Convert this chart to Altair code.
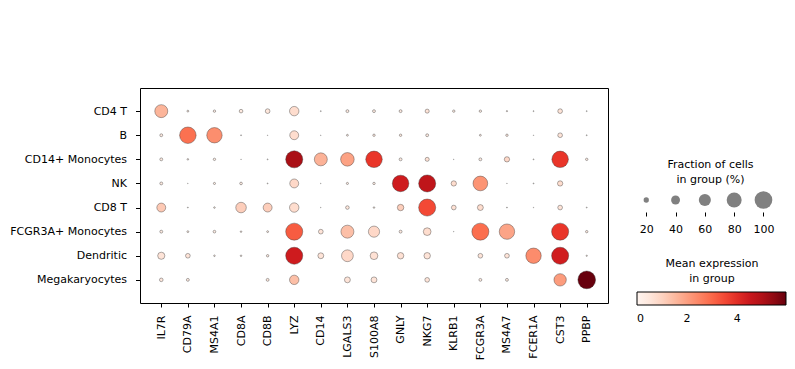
import altair as alt
import pandas as pd

genes = ["IL7R", "CD79A", "MS4A1", "CD8A", "CD8B", "LYZ", "CD14", "LGALS3",
         "S100A8", "GNLY", "NKG7", "KLRB1", "FCGR3A", "MS4A7", "FCER1A", "CST3", "PPBP"]
groups = ["CD4 T", "B", "CD14+ Monocytes", "NK", "CD8 T",
          "FCGR3A+ Monocytes", "Dendritic", "Megakaryocytes"]

# fraction of cells in group (%) per gene, one list per group
frac_cd4t = [66, 5, 7, 12, 17, 43, 2, 9, 9, 9, 14, 7, 7, 3, 2, 17, 2]
frac_b = [9, 91, 83, 2, 1, 40, 1, 5, 7, 7, 9, 0, 5, 7, 1, 17, 2]
frac_cd14mono = [9, 4, 7, 1, 2, 95, 66, 70, 91, 9, 14, 1, 9, 20, 2, 91, 7]
frac_nk = [9, 1, 6, 8, 2, 40, 1, 6, 7, 91, 95, 20, 78, 1, 2, 20, 0]
frac_cd8t = [40, 2, 4, 50, 40, 43, 1, 12, 4, 26, 95, 17, 23, 2, 1, 17, 2]
frac_fcgr3amono = [9, 5, 8, 4, 5, 95, 17, 66, 54, 9, 33, 1, 95, 83, 0, 95, 7]
frac_dendritic = [30, 17, 4, 4, 7, 95, 23, 58, 33, 26, 26, 0, 17, 17, 83, 95, 3]
frac_mega = [12, 9, 0, 0, 9, 43, 0, 23, 23, 0, 17, 0, 9, 9, 0, 62, 100]

# mean expression in group per gene, one list per group
expr_cd4t = [1.6, 0.3, 0.3, 0.4, 0.5, 0.8, 0.2, 0.4, 0.4, 0.4, 0.6, 0.3, 0.3, 0.3, 0.2, 0.6, 0.2]
expr_b = [0.4, 2.85, 2.3, 0.2, 0.2, 0.8, 0.2, 0.3, 0.4, 0.4, 0.4, 0.0, 0.3, 0.4, 0.2, 0.6, 0.2]
expr_cd14mono = [0.4, 0.3, 0.3, 0.2, 0.2, 5.1, 1.65, 1.95, 3.85, 0.4, 0.7, 0.2, 0.4, 0.9, 0.2, 3.85, 0.4]
expr_nk = [0.4, 0.2, 0.3, 0.3, 0.2, 0.9, 0.2, 0.3, 0.3, 4.4, 4.7, 0.8, 2.2, 0.2, 0.2, 0.8, 0.0]
expr_cd8t = [1.2, 0.2, 0.3, 1.1, 1.1, 0.8, 0.2, 0.5, 0.3, 1.1, 3.5, 0.7, 0.8, 0.2, 0.2, 0.6, 0.2]
expr_fcgr3amono = [0.4, 0.3, 0.3, 0.3, 0.3, 3.2, 0.6, 1.4, 0.9, 0.4, 0.8, 0.2, 2.9, 1.9, 0.0, 3.85, 0.4]
expr_dendritic = [0.6, 0.6, 0.3, 0.3, 0.4, 4.4, 0.6, 0.9, 0.7, 0.7, 0.6, 0.0, 0.6, 0.6, 2.35, 4.35, 0.3]
expr_mega = [0.5, 0.4, 0.0, 0.0, 0.5, 1.4, 0.0, 0.6, 0.6, 0.0, 0.6, 0.0, 0.4, 0.4, 0.0, 2.05, 5.95]

frac_rows = [frac_cd4t, frac_b, frac_cd14mono, frac_nk, frac_cd8t,
             frac_fcgr3amono, frac_dendritic, frac_mega]
expr_rows = [expr_cd4t, expr_b, expr_cd14mono, expr_nk, expr_cd8t,
             expr_fcgr3amono, expr_dendritic, expr_mega]

legend_pcts = [20, 40, 60, 80, 100]
cbar_ticks = [0, 2, 4]
expr_max = 5.95

# matplotlib "Reds" colormap anchor colours (ColorBrewer 9-class)
reds = ["#fff5f0", "#fee0d2", "#fcbba1", "#fc9272", "#fb6a4a",
        "#ef3b2c", "#cb181d", "#a50f15", "#67000d"]
reds_domain = [expr_max * i / (len(reds) - 1) for i in range(len(reds))]

records = []
for g, fr, ex in zip(groups, frac_rows, expr_rows):
    for gene, f, e in zip(genes, fr, ex):
        records.append({"group": g, "gene": gene, "frac": f, "expr": e})
df = pd.DataFrame(records)

FONT = "DejaVu Sans"
size_scale = alt.Scale(type="pow", exponent=1.5, domain=[0, 100], range=[0, 314])
color_scale = alt.Scale(domain=reds_domain, range=reds, interpolate="rgb")

main = alt.Chart(df).transform_filter("datum.frac > 0").mark_circle(
    opacity=1, stroke="#333333", strokeWidth=0.4
).encode(
    x=alt.X("gene:N", sort=genes, scale=alt.Scale(type="point", padding=0.8),
            axis=alt.Axis(title=None, labelAngle=-90, labelAlign="right", labelBaseline="middle",
                          tickSize=4, labelPadding=8, domain=False)),
    y=alt.Y("group:N", sort=groups, scale=alt.Scale(type="point", padding=0.96),
            axis=alt.Axis(title=None, tickSize=4.5, labelPadding=9, domain=False)),
    size=alt.Size("frac:Q", scale=size_scale, legend=None),
    color=alt.Color("expr:Q", scale=color_scale,
                    legend=alt.Legend(orient="none", legendX=497, legendY=170, direction="horizontal",
                                      title=["Mean expression", "in group"], titleAnchor="middle",
                                      titleAlign="center", titleFontSize=11, titleFont=FONT,
                                      titleFontWeight="normal", titleColor="black", titleLineHeight=15,
                                      titlePadding=8, gradientLength=149, gradientThickness=13,
                                      gradientStrokeColor="black", gradientStrokeWidth=1,
                                      values=cbar_ticks, labelAlign="center", labelFontSize=11,
                                      labelFont=FONT, labelColor="black", labelOffset=8, padding=0)),
).properties(width=468, height=215, view=alt.ViewBackground(stroke="black", strokeWidth=1))

size_df = pd.DataFrame({"pct": legend_pcts})
size_chart = alt.Chart(size_df).mark_circle(color="#808080", opacity=1).encode(
    x=alt.X("pct:Q", scale=alt.Scale(domain=[13, 114.7], nice=False, zero=False),
            axis=alt.Axis(values=legend_pcts, title=None, domain=False, grid=False,
                          tickSize=4, labelPadding=7)),
    y=alt.value(112),
    size=alt.Size("pct:Q", scale=size_scale, legend=None),
).properties(
    width=149, height=124,
    title=alt.TitleParams(["Fraction of cells", "in group (%)"], offset=-97, anchor="middle",
                          fontSize=11, font=FONT, fontWeight="normal", color="black", lineHeight=15),
    view=alt.ViewBackground(stroke=None),
)

chart = alt.hconcat(main, size_chart, spacing=27).properties(
    padding={"top": 79, "left": 1, "right": 0, "bottom": 0}
).configure_axis(
    labelFont=FONT, labelFontSize=11, labelColor="black", tickColor="black", grid=False
).configure_view(stroke=None)

chart.save("out.html", embed_options={"renderer": "svg", "actions": False})
